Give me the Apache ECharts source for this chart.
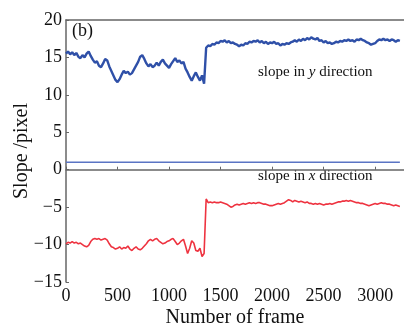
<!DOCTYPE html>
<html>
<head>
<meta charset="utf-8">
<script src="https://cdn.jsdelivr.net/npm/echarts@6/dist/echarts.min.js"></script>
<style>
  html, body { margin: 0; padding: 0; background: #fff; }
  #chart { width: 404px; height: 329px; }
</style>
</head>
<body>
<div id="chart"></div>
<script>
// frames are sampled every 20
const frameStep = 20;

// slope in y direction (blue)
const slopeY = [
  15.5, 15.8, 15.4, 15.7, 15.3, 15.6, 15.1, 14.9, 15.3, 15.0,
  15.5, 15.8, 15.2, 14.7, 14.3, 14.5, 13.9, 13.7, 14.2, 14.8,
  14.6, 13.8, 13.2, 12.6, 12.0, 11.7, 12.1, 12.7, 13.2, 12.9,
  13.1, 12.7, 12.9, 13.4, 13.9, 14.4, 15.1, 15.3, 14.8, 14.2,
  13.8, 14.1, 13.7, 13.9, 14.3, 13.9, 14.4, 14.7, 14.2, 13.9,
  13.6, 14.1, 14.5, 14.9, 14.4, 14.6, 14.2, 14.4, 13.5, 13.0,
  12.4, 11.9, 12.5, 13.0, 12.4, 11.9, 12.6, 11.5,
  // jump at ~1350
  16.3, 16.6, 16.5, 16.8, 16.7, 17.0, 16.9, 17.2, 17.1, 17.3,
  17.0, 17.2, 16.9, 17.0, 16.8, 16.7, 16.5, 16.7, 16.6, 16.9,
  16.8, 17.1, 17.0, 17.2, 17.1, 17.3, 17.0, 17.2, 16.9, 17.1,
  16.8, 17.0, 16.9, 17.1, 16.8, 16.9, 16.6, 16.8, 16.7, 16.9,
  16.8, 17.0, 17.1, 17.3, 17.1, 17.4, 17.2, 17.5, 17.3, 17.6,
  17.4, 17.7, 17.5, 17.4, 17.6, 17.2, 17.3, 17.0, 17.2, 16.9,
  17.0, 16.8, 16.9, 17.1, 17.0, 17.2, 17.1, 17.3, 17.2, 17.4,
  17.2, 17.3, 17.1, 17.4, 17.3, 17.5, 17.3, 17.2, 17.0, 16.9,
  16.7, 16.8, 16.9, 17.2, 17.4, 17.3, 17.5, 17.3, 17.4, 17.2,
  17.4, 17.3, 17.1, 17.3, 17.2
];

// slope in x direction (red)
const slopeX = [
  -9.9, -9.7, -9.8, -9.6, -9.8, -9.7, -9.9, -9.8, -10.0, -10.2,
  -10.3, -10.1, -9.6, -9.3, -9.2, -9.3, -9.2, -9.4, -9.3, -9.2,
  -9.4, -9.9, -10.3, -10.4, -10.6, -10.5, -10.3, -10.6, -10.4, -10.5,
  -10.2, -10.6, -10.8, -10.5, -10.3, -10.6, -10.7, -10.5, -10.2, -9.9,
  -9.5, -9.3, -9.5, -9.3, -9.2, -9.5, -9.7, -9.9, -9.8, -9.6,
  -9.5, -9.3, -9.2, -9.6, -10.0, -9.8, -9.5, -9.3, -10.2, -11.2,
  -10.5, -9.5, -9.8, -10.8, -10.9, -10.5, -11.6, -11.2,
  // jump
  -3.9, -4.4, -4.3, -4.4, -4.3, -4.4, -4.4, -4.3, -4.4, -4.5,
  -4.6, -4.8, -5.0, -4.9, -4.7, -4.6, -4.7, -4.6, -4.5, -4.6,
  -4.5, -4.4, -4.5, -4.4, -4.5, -4.4, -4.4, -4.5, -4.6, -4.6,
  -4.7, -4.8, -4.8, -4.7, -4.6, -4.5, -4.6, -4.5, -4.4, -4.2,
  -4.0, -4.1, -4.3, -4.1, -4.2, -4.3, -4.2, -4.3, -4.4, -4.3,
  -4.5, -4.5, -4.6, -4.5, -4.6, -4.5, -4.6, -4.7, -4.6, -4.6,
  -4.5, -4.6, -4.5, -4.4, -4.3, -4.3, -4.2, -4.2, -4.1, -4.2,
  -4.1, -4.2, -4.3, -4.4, -4.4, -4.5, -4.5, -4.6, -4.7, -4.8,
  -4.7, -4.6, -4.5, -4.6, -4.5, -4.4, -4.5, -4.5, -4.6, -4.6,
  -4.7, -4.8, -4.7, -4.8, -4.9
];

// flat reference line
const flatX = [0, 3240];
const flatY = [1, 1];

const xTicks = [0, 500, 1000, 1500, 2000, 2500, 3000];
const yTicks = [-15, -10, -5, 0, 5, 10, 15, 20];

const toPairs = arr => arr.map((v, i) => [i * frameStep, v]);

const serif = 'Liberation Serif';
const axisColor = '#666';
const minus = v => String(v).replace('-', '\u2212');

const chart = echarts.init(document.getElementById('chart'));
chart.setOption({
  animation: false,
  backgroundColor: '#fff',
  grid: { left: 66, right: 0, top: 20, bottom: 47, outerBoundsMode: 'none' },
  xAxis: [
    {
      type: 'value',
      min: 0, max: 3280, interval: 500,
      name: 'Number of frame',
      nameLocation: 'middle',
      nameGap: 26,
      nameMoveOverlap: false,
      nameTextStyle: { fontFamily: serif, fontSize: 20, color: '#111' },
      axisLine: { show: true, lineStyle: { color: axisColor, width: 1.5 } },
      axisTick: { show: true, inside: true, length: 3, lineStyle: { color: axisColor } },
      axisLabel: {
        fontFamily: serif, fontSize: 18, color: '#111', margin: 5,
        showMaxLabel: false,
        formatter: v => xTicks.includes(v) ? String(v) : ''
      },
      splitLine: { show: false }
    },
    {
      type: 'value', position: 'top',
      min: 0, max: 3280,
      axisLine: { show: true, lineStyle: { color: axisColor, width: 1.5 } },
      axisTick: { show: false },
      axisLabel: { show: false },
      splitLine: { show: false }
    }
  ],
  yAxis: {
    type: 'value',
    min: -15, max: 20, interval: 5,
    name: 'Slope /pixel',
    nameLocation: 'middle',
    nameGap: 34,
    nameMoveOverlap: false,
    nameTextStyle: { fontFamily: serif, fontSize: 20, color: '#111' },
    axisLine: { show: true, lineStyle: { color: axisColor, width: 1.5 } },
    axisTick: { show: true, inside: true, length: 3, lineStyle: { color: axisColor } },
    axisLabel: {
      fontFamily: serif, fontSize: 18, color: '#111', margin: 4,
      formatter: v => yTicks.includes(v) ? minus(v) : ''
    },
    splitLine: { show: false }
  },
  graphic: [
    {
      type: 'text', left: 72, top: 22,
      style: { text: '(b)', fontFamily: serif, fontSize: 18, fill: '#111' }
    },
    {
      type: 'text', left: 258, top: 65,
      style: {
        text: 'slope in {i|y} direction',
        fontFamily: serif, fontSize: 15, fill: '#111',
        rich: { i: { fontFamily: serif, fontSize: 15, fontStyle: 'italic', fill: '#111' } }
      }
    },
    {
      type: 'text', left: 258, top: 169,
      style: {
        text: 'slope in {i|x} direction',
        fontFamily: serif, fontSize: 15, fill: '#111',
        rich: { i: { fontFamily: serif, fontSize: 15, fontStyle: 'italic', fill: '#111' } }
      }
    }
  ],
  series: [
    {
      type: 'line',
      data: flatX.map((x, i) => [x, flatY[i]]),
      showSymbol: false,
      lineStyle: { color: '#5a74c4', width: 1.5 },
      z: 1
    },
    {
      type: 'line',
      data: toPairs(slopeY),
      showSymbol: false,
      lineStyle: { color: '#2f50a8', width: 2.4 },
      z: 2
    },
    {
      type: 'line',
      data: toPairs(slopeX),
      showSymbol: false,
      lineStyle: { color: '#ee3340', width: 1.6 },
      z: 2
    }
  ]
});
</script>
</body>
</html>
